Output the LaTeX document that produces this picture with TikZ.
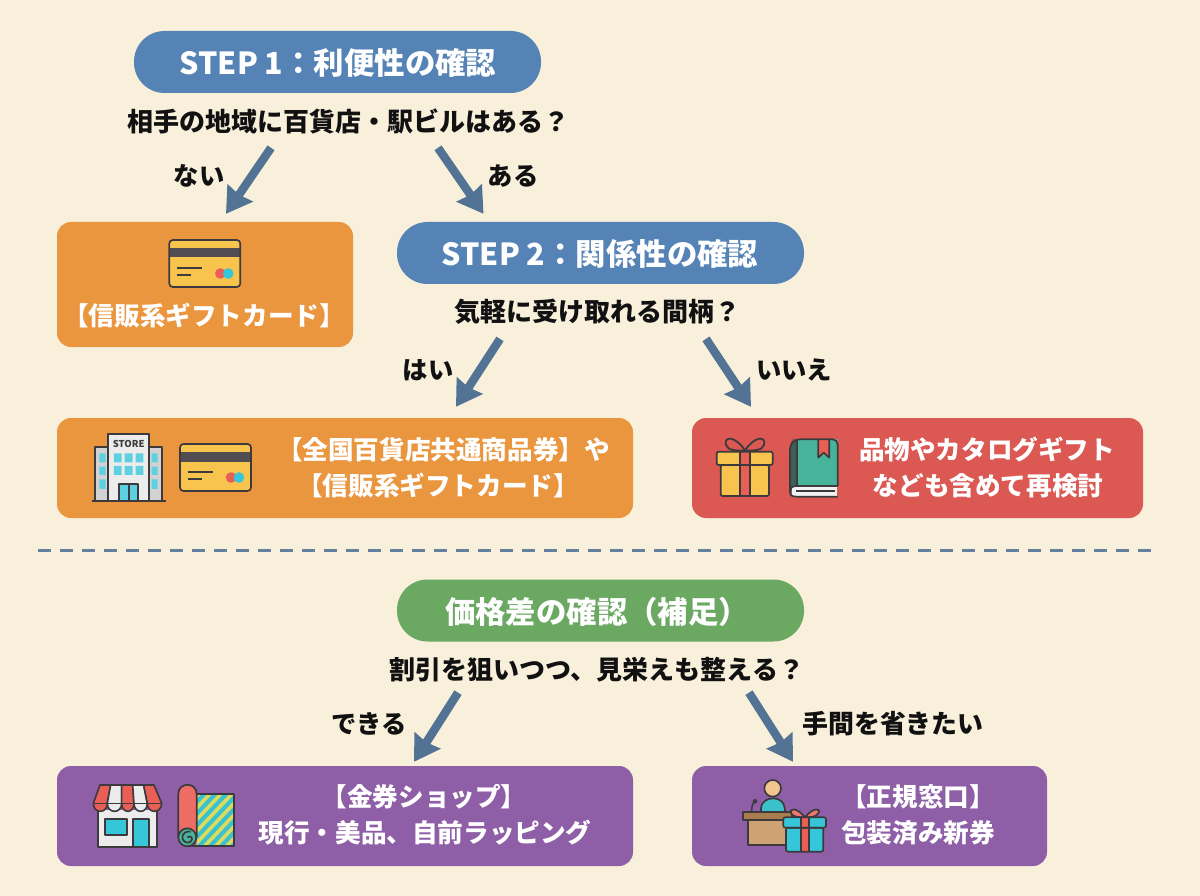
\documentclass[tikz,border=0pt]{standalone}
\usepackage{fontspec}
\setmainfont{Noto Sans CJK JP}
\usetikzlibrary{arrows.meta,calc}
\definecolor{bgc}{HTML}{F9F0DC}
\definecolor{blu}{HTML}{5583B6}
\definecolor{org}{HTML}{EA963F}
\definecolor{redb}{HTML}{DB5853}
\definecolor{grn}{HTML}{6BA963}
\definecolor{pur}{HTML}{8E5FA6}
\definecolor{arc}{HTML}{527394}
\definecolor{ink}{HTML}{111111}
\definecolor{ico}{HTML}{3C3A3C}
\definecolor{yel}{HTML}{F8C44E}
\definecolor{cya}{HTML}{35C6DA}
\definecolor{rib}{HTML}{EA5F55}
\definecolor{tea}{HTML}{47B39A}
\definecolor{lime}{HTML}{DDDB5E}
\definecolor{desk}{HTML}{CFA274}
\definecolor{desktop}{HTML}{A97C50}
\definecolor{skin}{HTML}{F3C68F}
\tikzset{
 x=1pt,y=-1pt,
 pill/.style={draw=none,rounded corners=30.5pt,minimum width=407pt,minimum height=62pt,inner sep=0pt},
 panel/.style={draw=none,rounded corners=14pt,inner sep=0pt},
 title/.style={text=white,font=\fontsize{30.4}{32}\selectfont\bfseries,inner sep=0pt},
 quest/.style={text=ink,font=\fontsize{26}{28}\selectfont\bfseries,inner sep=0pt},
 lab/.style={text=ink,font=\fontsize{25.3}{28}\selectfont\bfseries,inner sep=0pt},
 ptext/.style={text=white,font=\fontsize{25.6}{28}\selectfont\bfseries,inner sep=0pt},
 arr/.style={draw=arc,line width=8.5pt,-{Stealth[width=30pt,length=25pt,inset=2pt]}},
 icon/.style={draw=ico,line width=1.7pt,line join=round},
 zm/.style={x=0.3333pt,y=-0.3333pt},
}
\begin{document}
\begin{tikzpicture}
\useasboundingbox (0,0) rectangle (1200,896);
\fill[bgc] (0,0) rectangle (1200,896);
% boxes
\node[pill,fill=blu,anchor=center] (s1) at (337.5,62) {};
\node[pill,fill=blu] (s2) at (600.5,253) {};
\node[pill,fill=grn] (s3) at (600.5,610.5) {};
\node[panel,fill=org,minimum width=296pt,minimum height=125pt] (b1) at (205,284.5) {};
\node[panel,fill=org,minimum width=576pt,minimum height=100pt] (b2) at (345,468) {};
\node[panel,fill=redb,minimum width=451pt,minimum height=100pt] (b3) at (917.5,468) {};
\node[panel,fill=pur,minimum width=576pt,minimum height=100pt] (b4) at (345,816) {};
\node[panel,fill=pur,minimum width=355pt,minimum height=100pt] (b5) at (869.5,816) {};
% titles
\node[title] (t1) at (338,62.5) {STEP 1：利便性の確認};
\node[title] (t2) at (600,254) {STEP 2：関係性の確認};
\node[title] (t3) at (597,612) {価格差の確認（補足）};
% questions
\node[quest] (q1) at (348,121) {相手の地域に百貨店・駅ビルはある？};
\node[quest] (q2) at (597,312) {気軽に受け取れる間柄？};
\node[quest] (q3) at (597,670) {割引を狙いつつ、見栄えも整える？};
% labels
\node[lab] (l1) at (199,176) {ない};
\node[lab] (l2) at (513,176) {ある};
\node[lab] (l3) at (428,370) {はい};
\node[lab] (l4) at (794,370) {いいえ};
\node[lab] (l5) at (369,724) {できる};
\node[lab,font=\fontsize{25.9}{28}\selectfont\bfseries] (l6) at (893,724) {手間を省きたい};
% panel text
\node[ptext] (p1) at (204,316) {【信販系ギフトカード】};
\node[ptext] (p2a) at (443.5,450) {【全国百貨店共通商品券】や};
\node[ptext] (p2b) at (438,486) {【信販系ギフトカード】};
\node[ptext] (p3a) at (987,450) {品物やカタログギフト};
\node[ptext] (p3b) at (988,486) {なども含めて再検討};
\node[ptext] (p4a) at (424,797) {【金券ショップ】};
\node[ptext] (p4b) at (425,833) {現行・美品、自前ラッピング};
\node[ptext] (p5a) at (918,797) {【正規窓口】};
\node[ptext] (p5b) at (918,833) {包装済み新券};
% arrows
\draw[arr] ($(q1.south)+(-77,14)$) -- ($(b1.north)+(21,-8)$);
\draw[arr] ($(q1.south)+(90,14)$) -- ($(s2.north)+(-117,-8)$);
\draw[arr] ($(q2.south)+(-97,14)$) -- ($(b2.north)+(111,-11)$);
\draw[arr] ($(q2.south)+(109,14)$) -- ($(b3.north)+(-166.5,-11)$);
\draw[arr] ($(q3.south)+(-139,10)$) -- ($(b4.north)+(69,-4)$);
\draw[arr] ($(q3.south)+(152,10)$) -- ($(b5.north)+(-76.5,-4)$);
% dashed separator
\coordinate (dl) at (38,550);
\coordinate (dr) at (1157,550);
\draw[draw=arc!90,line width=3pt,dash pattern=on 13pt off 9pt] (dl) -- (dr);
% card icons
\foreach \cx/\cy in {169.3/240,180/444}{
\begin{scope}[shift={(\cx,\cy)}]
 \fill[yel,rounded corners=3.5pt] (0,0) rectangle (71,47);
 \fill[ico!90] (0,8) rectangle (71,17.5);
 \draw[icon,rounded corners=3.5pt] (0,0) rectangle (71,47);
 \draw[ico,line width=1.3pt] (7.5,28) -- (33,28) (7.5,35) -- (22,35);
 \fill[rib] (51,33.5) circle (5.3);
 \fill[cya] (59,33.5) circle (5.3);
\end{scope}}
% building
\begin{scope}[shift={(50,410)},zm]
 \fill[gray!35] (135,112) rectangle (175,272) (297,112) rectangle (336,272);
 \fill[gray!15] (175,72) rectangle (297,272);
 \fill[cya!80] (148,130) rectangle (167,157) (148,170) rectangle (167,195) (148,208) rectangle (167,237);
 \fill[cya!80] (305,130) rectangle (323,157) (305,170) rectangle (323,195) (305,208) rectangle (323,237);
 \foreach \a/\b in {192/215,224/248,257/280}{\fill[cya!80] (\a,130) rectangle (\b,157) (\a,168) rectangle (\b,195);}
 \fill[cya!80] (208,222) rectangle (264,272);
 \draw[icon] (135,272) -- (135,112) -- (175,112) (297,112) -- (336,112) -- (336,272);
 \draw[icon] (175,272) -- (175,72) -- (297,72) -- (297,272);
 \draw[icon] (208,272) -- (208,222) -- (264,222) -- (264,272) (236,222) -- (236,272);
 \draw[icon] (125,272) -- (348,272);
 \node[text=ico,font=\fontsize{9.5}{10}\selectfont\bfseries,inner sep=0pt] (storelab) at (236,101) {STORE};
\end{scope}
% gift and book
\begin{scope}[shift={(690,410)},zm]
 \draw[icon,line width=1.8pt] (165,122) .. controls (140,80) and (100,75) .. (108,105) .. controls (113,122) and (140,122) .. (165,122);
 \draw[icon,line width=1.8pt] (165,122) .. controls (190,80) and (230,75) .. (222,105) .. controls (217,122) and (190,122) .. (165,122);
 \fill[yel] (92,165) rectangle (237,258);
 \fill[yel,rounded corners=2pt] (80,125) rectangle (248,165);
 \fill[rib] (150,125) rectangle (180,258);
 \draw[icon] (150,125) -- (150,258) (180,125) -- (180,258);
 \draw[icon,rounded corners=2pt] (80,125) rectangle (248,165);
 \draw[icon,rounded corners=2pt] (92,165) rectangle (237,258);
 \fill[tea] (318,88) rectangle (443,228);
 \fill[ico!70!tea,rounded corners=6pt] (300,258) -- (300,105) -- (318,88) -- (322,88) -- (322,228) -- (300,240) -- cycle;
 \fill[white!90!gray] (306,232) -- (440,232) -- (440,258) -- (306,258) -- cycle;
 \fill[rib] (385,88) -- (418,88) -- (418,143) -- (401,128) -- (385,143) -- cycle;
 \draw[icon] (385,88) -- (385,143) -- (401,128) -- (418,143) -- (418,88);
 \draw[icon,rounded corners=5pt] (443,228) -- (443,88) -- (315,88) -- (300,104) -- (300,245);
 \draw[icon] (443,228) -- (320,228) .. controls (305,228) and (300,235) .. (300,245) .. controls (300,255) and (305,260) .. (320,260) -- (443,260);
 \draw[icon] (322,88) -- (322,228);
 \draw[ico,line width=1.2pt] (318,243) -- (436,243);
\end{scope}
% shop
\begin{scope}[shift={(50,760)},zm]
 \fill[gray!15] (143,150) rectangle (320,260);
 \fill[cya] (165,178) rectangle (230,225) (250,178) rectangle (298,260);
 \draw[icon] (165,178) rectangle (230,225);
 \draw[icon] (250,260) -- (250,178) -- (298,178) -- (298,260);
 \draw[icon] (143,150) -- (143,260) -- (320,260) -- (320,150);
 \foreach \ta/\tb/\ba/\bb/\c in {150/182/130/172/rib,182/215/172/215/gray!15,215/248/215/252/rib,248/281/252/292/gray!15,281/312/292/335/rib}{
  \path[fill=\c,draw=ico,line width=1.6pt,line join=round] (\ta,75) -- (\tb,75) -- (\bb,130) .. controls (\bb,162) and (\ba,162) .. (\ba,130) -- cycle;
 }
 \draw[ico,line width=1.4pt] (130,130) -- (335,130);
\end{scope}
% wrapping paper
\begin{scope}[shift={(50,760)},zm]
 \fill[cya!80!tea] (440,103) rectangle (553,258);
 \begin{scope}
  \clip (440,103) rectangle (553,258);
  \foreach \k in {-6,...,3}{\draw[lime,line width=3.6pt] (420+\k*33,270) -- (420+\k*33+170,90);}
 \end{scope}
 \draw[icon] (440,103) -- (553,103) -- (553,258) -- (412,258);
 \fill[rib!85!pink] (385,232) -- (385,102) .. controls (385,65) and (440,65) .. (440,102) -- (440,232) -- cycle;
 \draw[icon] (440,232) -- (440,102) .. controls (440,65) and (385,65) .. (385,102) -- (385,232);
 \fill[tea] (412,232) circle (27);
 \draw[icon] (412,232) circle (27);
 \draw[icon] (412,232) .. controls (422,224) and (432,236) .. (422,245) .. controls (412,252) and (397,245) .. (397,232) .. controls (397,220) and (410,212) .. (422,215);
\end{scope}
% counter and gift
\begin{scope}[shift={(690,760)},zm]
 \fill[cya!75!tea] (213,155) -- (213,145) .. controls (215,122) and (235,115) .. (250,115) .. controls (268,115) and (285,125) .. (285,155) -- cycle;
 \draw[icon] (213,155) -- (213,145) .. controls (215,122) and (235,115) .. (250,115) .. controls (268,115) and (285,125) .. (285,155);
 \fill[skin] (248,85) circle (25);
 \draw[icon] (248,85) circle (25);
 \draw[ico,line width=1.5pt] (185,155) .. controls (185,140) and (187,130) .. (195,125);
 \fill[ico] (195,124) circle (7);
 \fill[desk] (175,180) rectangle (300,255);
 \draw[icon] (300,255) -- (175,255) -- (175,180);
 \fill[desktop] (160,155) rectangle (305,180);
 \draw[icon] (160,155) rectangle (305,180);
 \fill[rib!85!white] (345,172) .. controls (320,140) and (295,145) .. (303,160) .. controls (310,172) and (330,172) .. (345,172) .. controls (370,140) and (395,145) .. (385,160) .. controls (378,172) and (360,172) .. (345,172);
 \draw[icon] (345,172) .. controls (320,140) and (295,145) .. (303,160) .. controls (310,172) and (330,172) .. (345,172) .. controls (370,140) and (395,145) .. (385,160) .. controls (378,172) and (360,172) .. (345,172);
 \fill[cya] (288,203) rectangle (400,275);
 \fill[cya] (280,172) rectangle (408,203);
 \fill[rib] (333,172) rectangle (357,275);
 \draw[icon] (333,172) -- (333,275) (357,172) -- (357,275);
 \draw[icon,rounded corners=2pt] (280,172) rectangle (408,203);
 \draw[icon,rounded corners=2pt] (288,203) rectangle (400,275);
\end{scope}
\end{tikzpicture}
\end{document}
